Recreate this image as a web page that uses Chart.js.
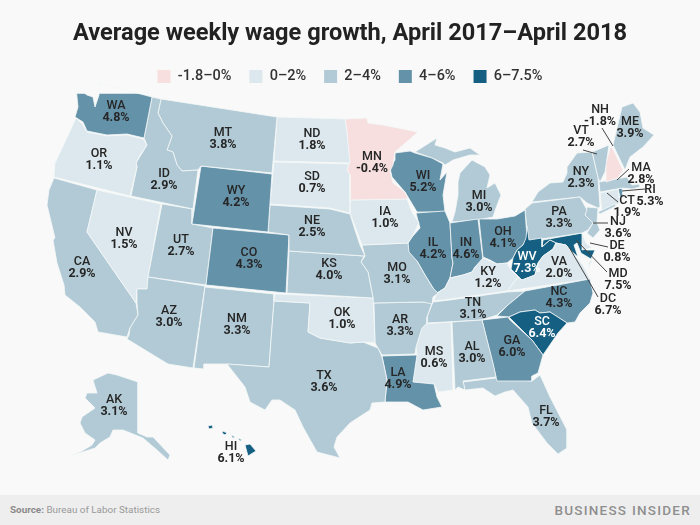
<!DOCTYPE html>
<html>
<head>
<meta charset="utf-8">
<title>Average weekly wage growth</title>
<script src="https://cdn.jsdelivr.net/npm/chart.js@4"></script>
<style>
  html, body { margin: 0; padding: 0; background: #f9f9f9; }
  #wrap { position: relative; width: 700px; height: 525px; overflow: hidden; font-family: Roboto, sans-serif; }
  #chartBox { position: absolute; left: 0; top: 0; width: 700px; height: 495px; }
  #footer { position: absolute; left: 0; top: 495px; width: 700px; height: 30px; background: #eeeeee; }
  #source { position: absolute; left: 10px; top: 8px; font-size: 9.9px; line-height: 14px; color: #999999; }
  #source b { color: #8a8a8a; }
  #brand { position: absolute; right: 9px; top: 6px; font-size: 13.5px; line-height: 18px; font-weight: 500; letter-spacing: 1.25px; color: #8f8f8f; }
</style>
</head>
<body>
<div id="wrap">
  <div id="chartBox"><canvas id="mapChart"></canvas></div>
  <div id="footer">
    <div id="source"><b>Source:</b> Bureau of Labor Statistics</div>
    <div id="brand">BUSINESS INSIDER</div>
  </div>
</div>
<script>
// legend bins
const binLabels = ['-1.8–0%', '0–2%', '2–4%', '4–6%', '6–7.5%'];
const binTops = [0, 2, 4, 6, 7.5];
const binColors = ['#f7dfdf', '#dce8ed', '#b1cad5', '#6492a9', '#156082'];

// wage growth by state, percent
const stateNames = ['WA','OR','ID','MT','WY','ND','SD','NE','CO','KS','OK','TX','NM','AZ','UT','NV','CA','MN','IA','MO','AR','LA','MS','AL','GA','FL','SC','NC','TN','KY','VA','WV','OH','IN','IL','WI','MI','PA','NY','VT','NH','ME','MA','CT','RI','NJ','DE','MD','DC','AK','HI'];
const wageGrowth = [4.8,1.1,2.9,3.8,4.2,1.8,0.7,2.5,4.3,4.0,1.0,3.6,3.3,3.0,2.7,1.5,2.9,-0.4,1.0,3.1,3.3,4.9,0.6,3.0,6.0,3.7,6.4,4.3,3.1,1.2,2.0,7.3,4.1,4.6,4.2,5.2,3.0,3.3,2.3,2.7,-1.8,3.9,2.8,1.9,5.3,3.6,0.8,7.5,6.7,3.1,6.1];

// where each state's two label lines are centred, map units
const labelAnchors = [[116,112],[99,160],[164,180],[223,139],[236,197],[312,140],[312,183],[312,227],[249,259],[329,270],[342,319],[324,382],[237,325],[169,317],[181,246],[124,239],[82,268],[372,163],[385,218],[397,274],[400,326],[398,379],[434,358],[472,353],[512,347],[546,417],[542,328],[559,298],[473,309],[488,278],[559,268],[527,263],[503,238],[466,249],[433,249],[423,182],[479,202],[559,218],[581,178],[581,137],[600,116],[630,128],[641,174],[627,207],[650,196],[618,228],[617,252],[618,280],[608,305],[114,406],[231,453]];

// state outlines, same order as stateNames
const stateOutlines = [
  [[[76,87],[87,95],[93,97],[95,107],[99,95],[99,83],[152,97],[144,138],[127,134],[107,135],[87,131],[83,122],[75,117],[78,107]]],
  [[[76,118],[83,125],[87,132],[107,136],[127,135],[143,139],[147,145],[140,155],[136,163],[137,167],[130,196],[54,177],[55,163],[65,142]]],
  [[[152,97],[161,99],[158,113],[163,123],[172,136],[167,150],[173,152],[177,165],[182,171],[198,170],[193,209],[131,196],[137,167],[136,163],[147,145],[144,138]]],
  [[[161,99],[277,117],[272,173],[201,166],[198,170],[182,171],[177,165],[173,152],[167,150],[172,136],[163,123],[158,113]]],
  [[[201,166],[272,174],[268,232],[192,224]]],
  [[[277,117],[345,119],[347,133],[350,163],[274,161]]],
  [[[274,162],[349,164],[347,170],[350,175],[350,213],[330,208],[270,204]]],
  [[[270,205],[330,209],[350,214],[355,230],[360,245],[365,256],[289,251],[289,235],[268,232]]],
  [[[213,228],[289,235],[286,293],[206,285]]],
  [[[289,251],[364,256],[361,262],[368,272],[373,298],[287,293]]],
  [[[275,294],[373,298],[374,320],[375,343],[363,342],[350,343],[320,338],[308,332],[310,303],[274,301]]],
  [[[274,301],[310,303],[308,332],[320,338],[350,343],[363,342],[378,348],[382,357],[387,380],[385,402],[372,403],[370,410],[350,423],[337,437],[334,447],[340,458],[317,452],[303,427],[295,410],[280,400],[272,400],[265,410],[250,402],[245,387],[227,364],[269,367]]],
  [[[205,287],[274,294],[274,301],[269,367],[226,364],[204,364],[204,369],[194,368]]],
  [[[148,277],[205,286],[193,368],[168,364],[127,339],[129,335],[130,328],[138,315],[137,303],[137,289],[147,289]]],
  [[[162,204],[193,209],[192,224],[213,228],[206,285],[148,277]]],
  [[[97,190],[161,204],[148,277],[147,289],[137,289],[136,303],[87,232]]],
  [[[54,178],[97,190],[87,232],[136,303],[138,315],[130,328],[127,337],[98,332],[95,322],[80,307],[65,295],[64,285],[57,263],[53,240],[55,238],[47,205],[49,190]]],
  [[[345,119],[367,118],[368,123],[383,125],[418,132],[395,152],[393,165],[390,171],[393,183],[405,192],[408,199],[350,200],[350,175],[347,170],[349,164],[347,133]]],
  [[[350,200],[407,199],[412,212],[419,223],[412,237],[408,243],[362,245],[350,213]]],
  [[[362,245],[408,243],[409,252],[417,261],[425,275],[433,288],[438,293],[433,297],[432,304],[423,302],[373,303],[373,298],[368,272],[361,262],[365,256]]],
  [[[374,303],[423,302],[432,303],[427,317],[427,323],[422,328],[416,347],[415,354],[382,355],[378,348],[375,343]]],
  [[[382,356],[417,355],[413,382],[434,384],[437,397],[442,407],[423,410],[408,402],[385,402],[387,380]]],
  [[[423,324],[451,322],[453,390],[438,392],[434,384],[413,382],[417,355],[416,347]]],
  [[[452,322],[482,320],[493,363],[496,377],[463,381],[465,390],[458,387],[455,390]]],
  [[[482,320],[508,317],[510,320],[532,340],[543,355],[538,373],[532,376],[532,381],[497,381],[493,365]]],
  [[[463,382],[496,378],[532,381],[540,375],[550,397],[567,430],[567,448],[558,454],[547,443],[532,423],[528,407],[513,390],[505,392],[495,396],[483,388],[465,390]]],
  [[[509,317],[520,312],[535,310],[540,313],[550,312],[567,323],[558,333],[543,355],[532,340]]],
  [[[497,316],[508,305],[525,291],[590,279],[593,293],[590,303],[580,313],[575,322],[567,323],[550,312],[540,313],[535,310],[520,312],[509,317]]],
  [[[433,302],[450,300],[507,292],[525,291],[508,305],[497,315],[482,320],[427,323],[427,317]]],
  [[[483,258],[497,264],[507,263],[511,270],[518,277],[507,291],[450,299],[434,301],[437,293],[445,288],[450,278],[463,275],[472,272],[475,267]]],
  [[[507,291],[518,277],[522,280],[535,275],[538,263],[543,256],[553,249],[556,243],[566,245],[570,250],[577,258],[583,265],[590,279]],[[589,262],[593,258],[588,270]]],
  [[[527,226],[529,240],[542,238],[542,247],[550,240],[556,243],[553,249],[543,256],[538,263],[535,275],[522,280],[517,275],[511,269],[513,258],[517,250],[523,245],[526,238]]],
  [[[479,219],[497,219],[515,216],[525,210],[527,238],[523,245],[517,250],[513,258],[507,263],[497,264],[490,260],[483,257]]],
  [[[450,223],[478,219],[483,260],[475,267],[472,272],[463,275],[450,278],[453,263],[452,258]]],
  [[[416,213],[445,211],[450,223],[452,258],[453,263],[450,278],[445,288],[437,293],[433,288],[425,275],[417,261],[408,252],[408,243],[412,237],[420,228]]],
  [[[395,153],[410,151],[415,153],[432,158],[443,164],[440,180],[447,172],[443,195],[445,212],[417,212],[408,197],[405,192],[392,177],[390,168],[395,160]]],
  [[[460,173],[472,160],[485,167],[490,175],[487,188],[495,183],[501,195],[496,208],[493,217],[478,220],[452,222],[455,212],[458,195],[458,182]],[[415,152],[437,138],[435,145],[445,148],[455,152],[470,148],[480,155],[470,155],[453,160],[445,165],[443,163],[432,158]]],
  [[[525,209],[532,203],[580,197],[587,210],[585,215],[593,223],[588,230],[582,233],[528,241]]],
  [[[567,167],[577,153],[592,152],[598,178],[600,207],[598,208],[587,203],[580,197],[532,202],[538,192],[550,183],[563,182],[567,173]],[[598,212],[615,204],[616,206],[600,214]]],
  [[[592,152],[609,145],[605,172],[600,182],[598,178]]],
  [[[611,145],[623,170],[618,178],[606,182],[606,163]]],
  [[[613,145],[622,107],[633,103],[640,112],[643,128],[654,135],[643,147],[630,157],[625,170]]],
  [[[599,182],[627,177],[632,185],[640,184],[640,187],[632,189],[622,188],[600,192]]],
  [[[600,193],[618,189],[620,203],[602,212]]],
  [[[618,189],[622,188],[623,197],[620,197]]],
  [[[587,207],[598,208],[597,223],[600,230],[593,238],[587,233],[593,223],[585,215]]],
  [[[582,233],[586,243],[592,248],[582,250]]],
  [[[543,240],[582,233],[586,250],[595,250],[591,259],[581,253],[577,243],[574,245],[578,257],[570,250],[566,245],[556,243],[550,240],[542,247]]],
  [[[566,244],[569,245],[568,248]]],
  [[[93,380],[108,373],[117,375],[138,382],[138,433],[147,437],[153,437],[170,455],[168,460],[157,450],[143,438],[123,430],[113,430],[110,437],[100,443],[95,448],[70,456],[82,451],[92,445],[95,440],[85,433],[80,423],[82,417],[95,408],[90,403],[85,398],[87,393],[97,393]]],
  [[[245,445],[250,444],[256,451],[248,456]],[[208,426],[212,425],[213,428],[209,429]],[[223,431],[227,433],[225,435],[222,433]],[[231,435],[235,437],[233,438]],[[238,438],[242,440],[240,441]]]
];

// thin lines from the small eastern states out to their labels
const leaderLines = [
  [[602,128],[613,146]], [[583,150],[597,154]], [[629,169],[617,180]], [[645,189],[622,191]],
  [[618,202],[607,193]], [[608,223],[593,223]], [[608,247],[590,243]], [[607,272],[576,240]], [[598,297],[569,247]]
];

function binColor(v) {
  const i = binTops.findIndex(t => v <= t);
  return binColors[i];
}
function toPoints(pairs) {
  return pairs.map(p => ({ x: p[0], y: p[1] }));
}

const datasets = [];
leaderLines.forEach(line => {
  datasets.push({ data: toPoints(line), showLine: true, fill: false, borderColor: '#444444', borderWidth: 1, pointRadius: 0, clip: false });
});
stateOutlines.forEach((rings, i) => {
  rings.forEach(ring => {
    datasets.push({
      label: stateNames[i],
      data: toPoints(ring.concat([ring[0]])),
      showLine: true,
      fill: 'shape',
      tension: 0,
      backgroundColor: binColor(wageGrowth[i]),
      borderColor: '#f4f7f8',
      borderWidth: 0.8,
      pointRadius: 0,
      clip: false
    });
  });
});

// writes state code and value on top of the map
const stateLabels = {
  id: 'stateLabels',
  afterDatasetsDraw(chart) {
    const ctx = chart.ctx;
    const xs = chart.scales.x, ys = chart.scales.y;
    ctx.save();
    ctx.textAlign = 'center';
    ctx.textBaseline = 'middle';
    stateNames.forEach((name, i) => {
      const x = xs.getPixelForValue(labelAnchors[i][0]);
      const y = ys.getPixelForValue(labelAnchors[i][1]);
      ctx.fillStyle = (name === 'WV' || name === 'SC') ? '#ffffff' : '#262626';
      ctx.font = '500 12.5px Roboto';
      ctx.fillText(name, x, y - 6);
      ctx.font = '700 12.5px Roboto';
      ctx.fillText(wageGrowth[i].toFixed(1) + '%', x, y + 6);
    });
    ctx.restore();
  }
};

new Chart(document.getElementById('mapChart').getContext('2d'), {
  type: 'scatter',
  data: { datasets: datasets },
  plugins: [stateLabels],
  options: {
    responsive: true,
    maintainAspectRatio: false,
    animation: false,
    layout: { padding: 0 },
    scales: {
      x: { type: 'linear', min: 0, max: 700, display: false },
      y: { type: 'linear', min: 93.82, max: 495, reverse: true, display: false }
    },
    plugins: {
      tooltip: { enabled: false },
      title: {
        display: true,
        text: 'Average weekly wage growth, April 2017–April 2018',
        color: '#222222',
        font: { family: 'Roboto', size: 23.6, weight: '700' },
        padding: { top: 20, bottom: 3 }
      },
      legend: {
        display: true,
        position: 'top',
        onClick: null,
        labels: {
          color: '#333333',
          font: { family: 'Roboto', size: 14.5, weight: '500' },
          boxWidth: 13,
          boxHeight: 13,
          padding: 18,
          generateLabels: () => binLabels.map((text, i) => ({
            text: text,
            fillStyle: binColors[i],
            strokeStyle: binColors[i],
            lineWidth: 0,
            fontColor: '#333333',
            hidden: false,
            datasetIndex: i
          }))
        }
      }
    }
  }
});
</script>
</body>
</html>
